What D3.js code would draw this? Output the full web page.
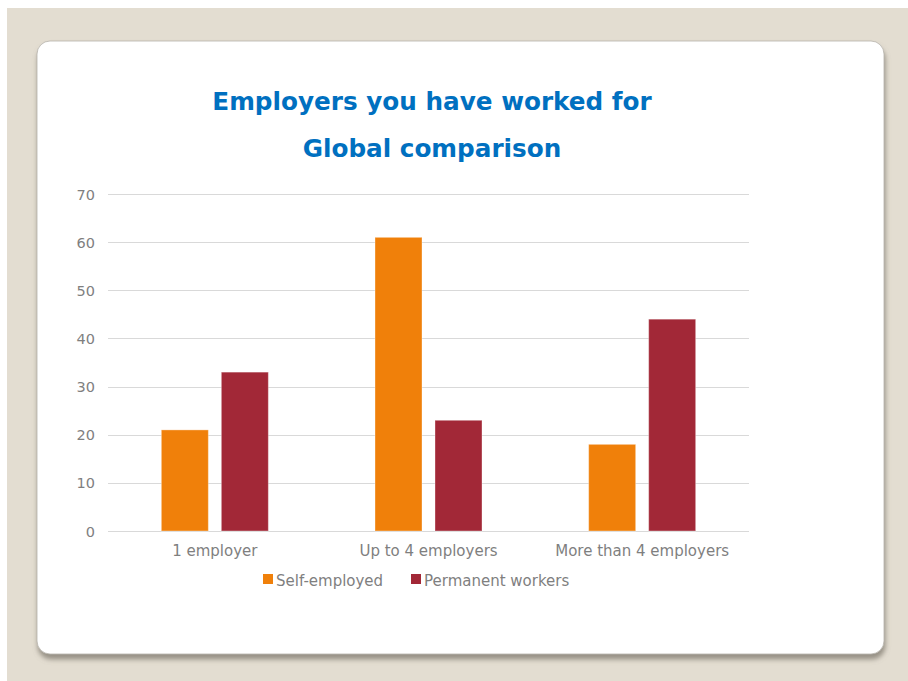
<!DOCTYPE html>
<html>
<head>
<meta charset="utf-8">
<script src="https://cdn.jsdelivr.net/npm/d3@7"></script>
<style>
  html, body { margin: 0; padding: 0; background: #ffffff; }
  svg { display: block; }
</style>
</head>
<body>
<svg id="chart" width="908" height="681"></svg>
<script>
// Data
const categories = ["1 employer", "Up to 4 employers", "More than 4 employers"];
const seriesNames = ["Self-employed", "Permanent workers"];
const selfEmployed = [21, 61, 18];
const permanentWorkers = [33, 23, 44];
const yTicks = [0, 10, 20, 30, 40, 50, 60, 70];
const titleLines = ["Employers you have worked for", "Global comparison"];
const seriesColors = ["#f0800a", "#a22837"];

const svg = d3.select("#chart");
const W = 908, H = 681;
const font = "'DejaVu Sans', Verdana, sans-serif";

// Backdrop
svg.append("rect").attr("x", 7).attr("y", 8).attr("width", W - 7).attr("height", H - 8).attr("fill", "#e3ddd1");

const defs = svg.append("defs");
const f = defs.append("filter").attr("id", "cardShadow").attr("x", "-5%").attr("y", "-5%").attr("width", "110%").attr("height", "115%");
f.append("feGaussianBlur").attr("in", "SourceAlpha").attr("stdDeviation", 2.5).attr("result", "b");
f.append("feOffset").attr("in", "b").attr("dx", 1).attr("dy", 5).attr("result", "o");
f.append("feFlood").attr("flood-color", "#7d776c").attr("flood-opacity", 0.75);
f.append("feComposite").attr("in2", "o").attr("operator", "in").attr("result", "s");
const m = f.append("feMerge");
m.append("feMergeNode").attr("in", "s");
m.append("feMergeNode").attr("in", "SourceGraphic");

// Card
svg.append("rect")
  .attr("x", 37).attr("y", 41).attr("width", 847).attr("height", 613)
  .attr("rx", 13).attr("ry", 13)
  .attr("fill", "#ffffff")
  .attr("stroke", "#b5b1aa").attr("stroke-width", 0.8)
  .attr("filter", "url(#cardShadow)");

// Title
const title = svg.append("text")
  .attr("text-anchor", "middle")
  .attr("font-family", font).attr("font-weight", "bold")
  .attr("font-size", 24.7).attr("fill", "#0070c0");
titleLines.forEach((t, i) => {
  title.append("tspan").attr("x", 432).attr("y", 110 + i * 47).text(t);
});

// Scales
const plot = { left: 108, right: 749, top: 194, bottom: 531 };
const x = d3.scaleBand().domain(categories).range([plot.left, plot.right]).paddingInner(0).paddingOuter(0);
const y = d3.scaleLinear().domain([0, 70]).range([plot.bottom, plot.top]);
const barW = 47, gap = 13;
const groupW = 2 * barW + gap;
const x1 = d3.scaleBand().domain(seriesNames).range([0, groupW]).paddingInner(gap / (barW + gap)).paddingOuter(0);

// Gridlines
svg.append("g")
  .selectAll("line").data(yTicks).join("line")
  .attr("x1", plot.left).attr("x2", plot.right)
  .attr("y1", d => Math.round(y(d)) + 0.5).attr("y2", d => Math.round(y(d)) + 0.5)
  .attr("stroke", "#d9d9d9").attr("stroke-width", 1);

// Y axis labels
const yAxis = svg.append("g").attr("transform", `translate(${plot.left - 13},0)`)
  .call(d3.axisLeft(y).tickValues(yTicks).tickSize(0).tickPadding(0));
yAxis.select(".domain").remove();
yAxis.selectAll("text").attr("font-family", font).attr("font-size", 14.5).attr("fill", "#7f7f7f").attr("dy", "0.35em");

// Bars
const rows = categories.map((c, i) => ({ cat: c, vals: [selfEmployed[i], permanentWorkers[i]] }));
const groups = svg.append("g").selectAll("g").data(rows).join("g")
  .attr("transform", d => `translate(${x(d.cat) + x.bandwidth() / 2 - groupW / 2},0)`);
groups.selectAll("rect").data(d => d.vals.map((v, j) => ({ v, s: seriesNames[j], j }))).join("rect")
  .attr("x", d => x1(d.s)).attr("width", x1.bandwidth())
  .attr("y", d => y(d.v)).attr("height", d => y(0) - y(d.v))
  .attr("fill", d => seriesColors[d.j])
  .attr("stroke", "#ffffff").attr("stroke-opacity", 0.35).attr("stroke-width", 1);

// X axis labels
const xAxis = svg.append("g").attr("transform", `translate(0,${plot.bottom})`)
  .call(d3.axisBottom(x).tickSize(0).tickPadding(14));
xAxis.select(".domain").remove();
xAxis.selectAll("text").attr("font-family", font).attr("font-size", 15).attr("fill", "#7f7f7f").attr("dy", "0.71em");

// Legend
const legendItems = [{ name: seriesNames[0], x: 263, c: seriesColors[0] }, { name: seriesNames[1], x: 411, c: seriesColors[1] }];
const lg = svg.append("g").selectAll("g").data(legendItems).join("g")
  .attr("transform", d => `translate(${d.x},574)`);
lg.append("rect").attr("width", 10).attr("height", 10).attr("fill", d => d.c);
lg.append("text").attr("x", 13).attr("y", 11.5).attr("font-family", font).attr("font-size", 15).attr("fill", "#7f7f7f").text(d => d.name);
</script>
</body>
</html>
